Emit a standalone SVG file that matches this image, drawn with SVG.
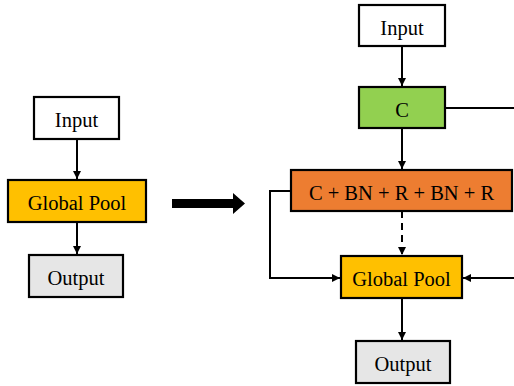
<svg xmlns="http://www.w3.org/2000/svg" width="514" height="386" viewBox="0 0 514 386">
<defs>
<style>
.box{stroke:#000;stroke-width:2.2}
.t{font-family:"Liberation Serif","Times New Roman",serif;font-size:20.5px;fill:#000;text-anchor:middle;dominant-baseline:central}
.c{fill:none;stroke:#000;stroke-width:2}
</style>
<marker id="ah" markerWidth="8" markerHeight="8" viewBox="0 0 8 8" refX="8" refY="4" orient="auto" markerUnits="userSpaceOnUse">
<path d="M0,0 L8,4 L0,8 Z" fill="#000"/>
</marker>
</defs>
<rect width="514" height="386" fill="#fff"/>
<g id="connectors">
<line class="c" x1="77" y1="139" x2="77" y2="179" marker-end="url(#ah)"/>
<line class="c" x1="77" y1="222" x2="77" y2="254" marker-end="url(#ah)"/>
<path d="M172,199 L233,199 L233,193 L245,203.5 L233,214 L233,208 L172,208 Z" fill="#000"/>
<line class="c" x1="402" y1="46" x2="402" y2="86" marker-end="url(#ah)"/>
<line class="c" x1="402" y1="128" x2="402" y2="169" marker-end="url(#ah)"/>
<line class="c" x1="445" y1="108" x2="514" y2="108"/>
<line class="c" x1="402" y1="211" x2="402" y2="255" stroke-dasharray="7,5" marker-end="url(#ah)"/>
<path class="c" d="M291,191 L270,191 L270,278 L340,278" marker-end="url(#ah)"/>
<line class="c" x1="514" y1="278" x2="463" y2="278" marker-end="url(#ah)"/>
<line class="c" x1="402" y1="298" x2="402" y2="340" marker-end="url(#ah)"/>
</g>
<g id="l-input"><rect class="box" x="34" y="97" width="85" height="42" fill="#fff"/><text class="t" x="76.5" y="120">Input</text></g>
<g id="l-pool"><rect class="box" x="8" y="180" width="138" height="42" fill="#FFC000"/><text class="t" x="77" y="203">Global Pool</text></g>
<g id="l-output"><rect class="box" x="29" y="255" width="94" height="42" fill="#E6E6E6"/><text class="t" x="76" y="278">Output</text></g>
<g id="r-input"><rect class="box" x="359" y="5" width="86" height="41" fill="#fff"/><text class="t" x="402" y="28">Input</text></g>
<g id="r-c"><rect class="box" x="359" y="87" width="86" height="41" fill="#92D050"/><text class="t" x="402" y="110">C</text></g>
<g id="r-block"><rect class="box" x="291" y="170" width="221" height="41" fill="#ED7D31"/><text class="t" x="401.5" y="193">C + BN + R + BN + R</text></g>
<g id="r-pool"><rect class="box" x="341" y="256" width="121" height="42" fill="#FFC000"/><text class="t" x="401.5" y="279">Global Pool</text></g>
<g id="r-output"><rect class="box" x="356" y="341" width="94" height="42" fill="#E6E6E6"/><text class="t" x="403" y="364">Output</text></g>
</svg>
